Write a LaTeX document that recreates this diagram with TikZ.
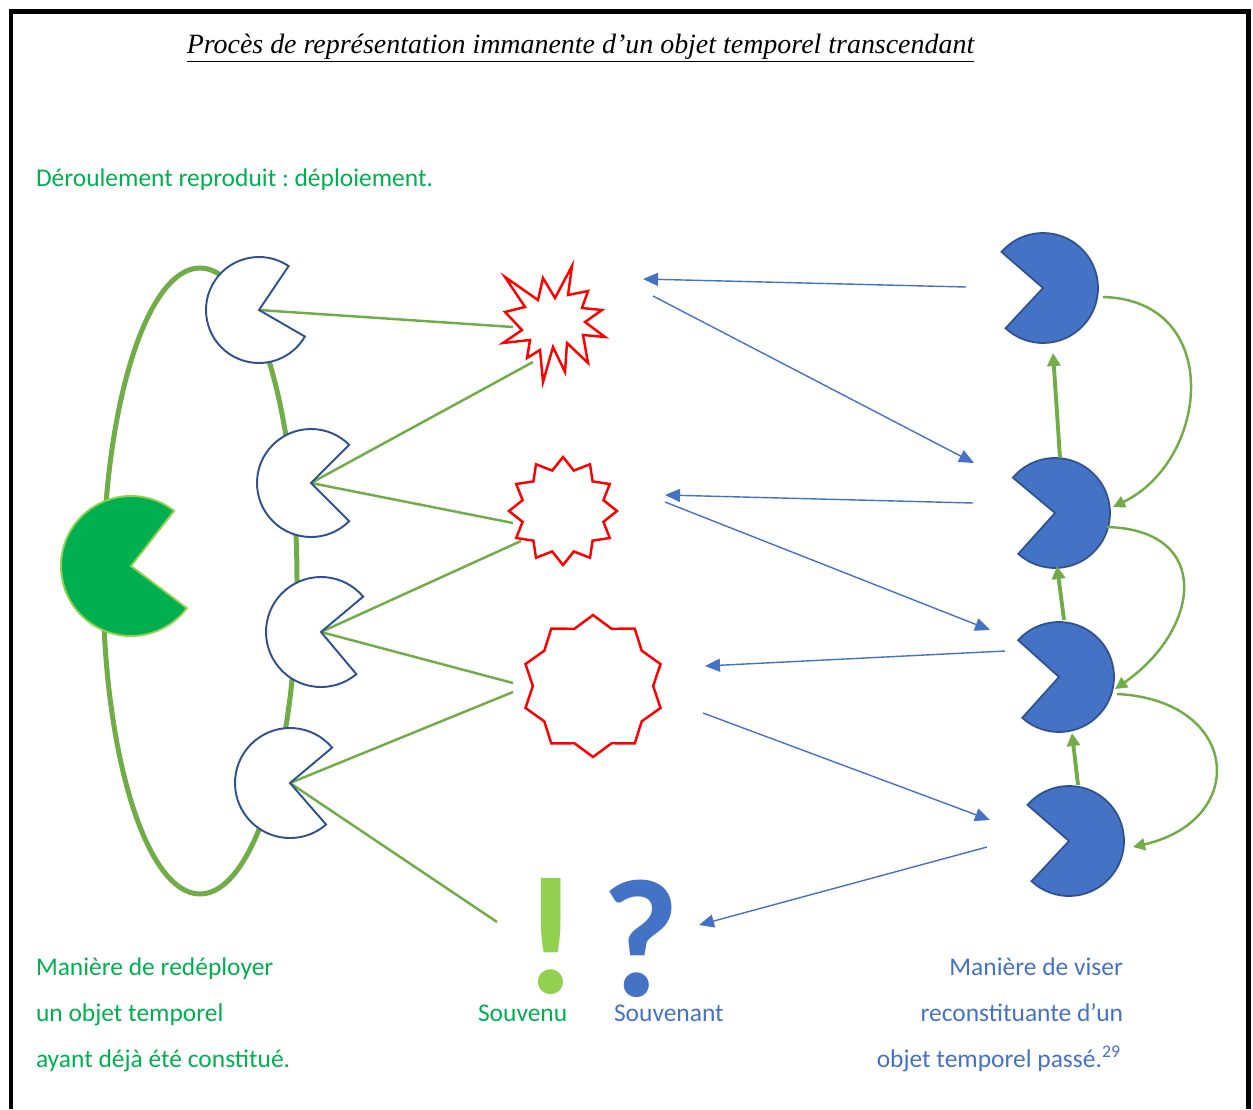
\documentclass[tikz,border=0pt]{standalone}
\usepackage{fontspec}
\setmainfont{Carlito}
\newfontfamily\titlefont{Liberation Serif}
\usepackage{tikz}
\usetikzlibrary{positioning}
\usetikzlibrary{arrows.meta,shapes.geometric}
\frenchspacing

\definecolor{LineGreen}{HTML}{70AD47}
\definecolor{TextGreen}{HTML}{00B050}
\definecolor{LightGreen}{HTML}{92D050}
\definecolor{PacBlue}{HTML}{4472C4}
\definecolor{PacEdge}{HTML}{2F528F}

\tikzset{
	every node/.style={inner sep=0pt, outer sep=0pt},
	frameline/.style={line width=0.1cm, black},
	loopline/.style={line width=0.1cm, LineGreen},
	linkline/.style={line width=1.4pt, LineGreen},
	aimarrow/.style={line width=0.8pt, PacBlue, -{Triangle[length=0.3cm, width=0.26cm]}},
	riseline/.style={line width=2.2pt, LineGreen, -{Triangle[length=0.26cm, width=0.26cm]}},
	bendline/.style={line width=1.4pt, LineGreen, -{Triangle[length=0.24cm, width=0.24cm]}},
	hollowpac/.style={draw=PacEdge, fill=white, line width=1.1pt},
	fullpac/.style={draw=PacEdge, fill=PacBlue, line width=1pt},
	wholepac/.style={draw=LightGreen, fill=TextGreen, line width=1.1pt},
	burst/.style={draw=red, fill=white, line width=1.4pt, miter limit=20},
	greentext/.style={text=TextGreen, font=\fontsize{14.5}{17}\selectfont},
	bluetext/.style={text=PacBlue, font=\fontsize{14.5}{17}\selectfont},
	bigsign/.style={anchor=base, font=\bfseries\fontsize{96}{96}\selectfont},
}

\begin{document}
\begin{tikzpicture}[x=0.02cm, y=-0.02cm]
	
	% ---------------------
	% Page & frame
	\useasboundingbox (0,0) rectangle (1253,1109);
	\draw[frameline] (11,1109) -- (11,11) -- (1248,11) -- (1248,1109);
	
	% ---------------------
	% Pacmen & bursts
	\coordinate (LoopMid) at (200,581);
	\coordinate (Whole)  at (131,566);
	\coordinate (MouthA) at (259,310);
	\coordinate (MouthB) at (311,483);
	\coordinate (MouthC) at (321,632);
	\coordinate (MouthD) at (290,783);
	
	\coordinate (AimA) at (1043,288);
	\coordinate (AimB) at (1055,513);
	\coordinate (AimC) at (1059,677);
	\coordinate (AimD) at (1069,841);
	
	\coordinate (BurstA) at (553,322);
	\coordinate (BurstB) at (563,511);
	\coordinate (BurstC) at (593,686);
	
	% ---------------------
	% Texts
	\node[anchor=base, font=\titlefont\itshape\fontsize{15.9}{19}\selectfont] (Title) at (580.5,53)
		{\underline{Procès de représentation immanente d’un objet temporel transcendant}};
	\node[greentext, anchor=base west] (Unfold) at (36,186) {Déroulement reproduit : déploiement.};
	
	\node[greentext, anchor=base west] (RedeployA) at (36,975)  {Manière de redéployer};
	\node[greentext, anchor=base west] (RedeployB) at (36,1021) {un objet temporel};
	\node[greentext, anchor=base west] (RedeployC) at (36,1067) {ayant déjà été constitué.};
	
	\node[bluetext, anchor=base east] (AimTextA) at (1123,975)  {Manière de viser};
	\node[bluetext, anchor=base east] (AimTextB) at (1123,1021) {reconstituante d’un};
	\node[bluetext, anchor=base east] (AimTextC) at (1121,1067) {objet temporel passé.\textsuperscript{29}};
	
	\node[greentext, anchor=base west] (Remembered) at (478,1021) {Souvenu};
	\node[bluetext, anchor=base west]  (Remembering) at (614,1021) {Souvenant};
	
	\node[bigsign, text=LightGreen] (Bang)  at (551,993) {!};
	\node[bigsign, text=PacBlue]    (Query) at (641,996) {?};
	
	% ---------------------
	% End points
	\path (BurstA) +(-40,5)   coordinate (BurstAw);
	\path (BurstA) +(-20,40)  coordinate (BurstAs);
	\path (BurstB) +(-50,12)  coordinate (BurstBw);
	\path (BurstB) +(-42,30)  coordinate (BurstBs);
	\path (BurstC) +(-80,-3)  coordinate (BurstCw);
	\path (BurstC) +(-80,6)   coordinate (BurstCs);
	\path (Bang.base) +(-54,-71) coordinate (BangW);
	
	\path (AimA)   +(-77,-1)  coordinate (AimAw);
	\path (BurstA) +(90,-43)  coordinate (BurstAe);
	\path (BurstA) +(100,-26) coordinate (BurstAse);
	\path (AimB)   +(-81,-50) coordinate (AimBn);
	\path (AimB)   +(-82,-10) coordinate (AimBw);
	\path (BurstB) +(102,-16) coordinate (BurstBe);
	\path (BurstB) +(102,-9)  coordinate (BurstBse);
	\path (AimC)   +(-69,-47) coordinate (AimCn);
	\path (AimC)   +(-54,-26) coordinate (AimCw);
	\path (BurstC) +(112,-20) coordinate (BurstCe);
	\path (BurstC) +(110,27)  coordinate (BurstCse);
	\path (AimD)   +(-79,-21) coordinate (AimDn);
	\path (AimD)   +(-82,6)   coordinate (AimDw);
	\path (Query.base) +(58,-71) coordinate (QueryE);
	
	\path (AimA) +(10,65)  coordinate (AimAbot);
	\path (AimB) +(5,-55)  coordinate (AimBtop);
	\path (AimB) +(2,53)   coordinate (AimBbot);
	\path (AimC) +(5,-57)  coordinate (AimCtop);
	\path (AimC) +(13,56)  coordinate (AimCbot);
	\path (AimD) +(9,-56)  coordinate (AimDtop);
	
	\path (AimA) +(60,9)   coordinate (AimAe);
	\path (AimB) +(58,-6)  coordinate (AimBe);
	\path (AimB) +(52,14)  coordinate (AimBse);
	\path (AimC) +(56,12)  coordinate (AimCe);
	\path (AimC) +(58,17)  coordinate (AimCse);
	\path (AimD) +(64,6)   coordinate (AimDe);
	
	% ------------------------------------------------
	% Left side: loop and links
	\draw[loopline] (LoopMid) ellipse [x radius=97, y radius=313];
	
	\draw[linkline] (MouthA) -- (BurstAw);
	\draw[linkline] (MouthB) -- (BurstAs);
	\draw[linkline] (MouthB) -- (BurstBw);
	\draw[linkline] (MouthC) -- (BurstBs);
	\draw[linkline] (MouthC) -- (BurstCw);
	\draw[linkline] (MouthD) -- (BurstCs);
	\draw[linkline] (MouthD) -- (BangW);
	
	\draw[wholepac] (Whole) -- +(-52:70) arc[start angle=-52, end angle=-323, radius=70] -- cycle;
	\draw[hollowpac] (MouthA) -- +(-56:53) arc[start angle=-56, end angle=-330, radius=53] -- cycle;
	\draw[hollowpac] (MouthB) -- +(-45:54) arc[start angle=-45, end angle=-315, radius=54] -- cycle;
	\draw[hollowpac] (MouthC) -- +(-40:55) arc[start angle=-40, end angle=-310, radius=55] -- cycle;
	\draw[hollowpac] (MouthD) -- +(-40:55) arc[start angle=-40, end angle=-311, radius=55] -- cycle;
	
	% ------------------------------------------------
	% Bursts
	\draw[burst] (505,277) -- (538,300) -- (543,278) -- (555,298) -- (572,266) -- (568,295)
		-- (588,291) -- (582,308) -- (602,310) -- (585,322) -- (605,337) -- (583,335)
		-- (588,363) -- (567,343) -- (565,372) -- (553,347) -- (543,382) -- (540,350)
		-- (527,358) -- (530,340) -- (503,343) -- (522,330) -- (505,312) -- (525,307) -- cycle;
	\node[burst, star, star points=12, star point ratio=1.29, minimum size=2.16cm] (StarB) at (BurstB) {};
	\node[burst, star, star points=10, star point ratio=1.18, minimum size=2.84cm] (StarC) at (BurstC) {};
	
	% ------------------------------------------------
	% Right side
	\draw[fullpac] (AimA) -- +(133:55) arc[start angle=133, end angle=-139, radius=55] -- cycle;
	\draw[fullpac] (AimB) -- +(132:55) arc[start angle=132, end angle=-140, radius=55] -- cycle;
	\draw[fullpac] (AimC) -- +(132:55) arc[start angle=132, end angle=-138, radius=55] -- cycle;
	\draw[fullpac] (AimD) -- +(133:55) arc[start angle=133, end angle=-139, radius=55] -- cycle;
	
	\draw[aimarrow] (AimAw) -- (BurstAe);
	\draw[aimarrow] (BurstAse) -- (AimBn);
	\draw[aimarrow] (AimBw) -- (BurstBe);
	\draw[aimarrow] (BurstBse) -- (AimCn);
	\draw[aimarrow] (AimCw) -- (BurstCe);
	\draw[aimarrow] (BurstCse) -- (AimDn);
	\draw[aimarrow] (AimDw) -- (QueryE);
	
	\draw[riseline] (AimBtop) -- (AimAbot);
	\draw[riseline] (AimCtop) -- (AimBbot);
	\draw[riseline] (AimDtop) -- (AimCbot);
	
	\draw[bendline] (AimAe) .. controls +(121,3) and +(97,-47) .. (AimBe);
	\draw[bendline] (AimBse) .. controls +(107,3) and +(85,-59) .. (AimCe);
	\draw[bendline] (AimCse) .. controls +(123,6) and +(117,-27) .. (AimDe);
	
\end{tikzpicture}
\end{document}
